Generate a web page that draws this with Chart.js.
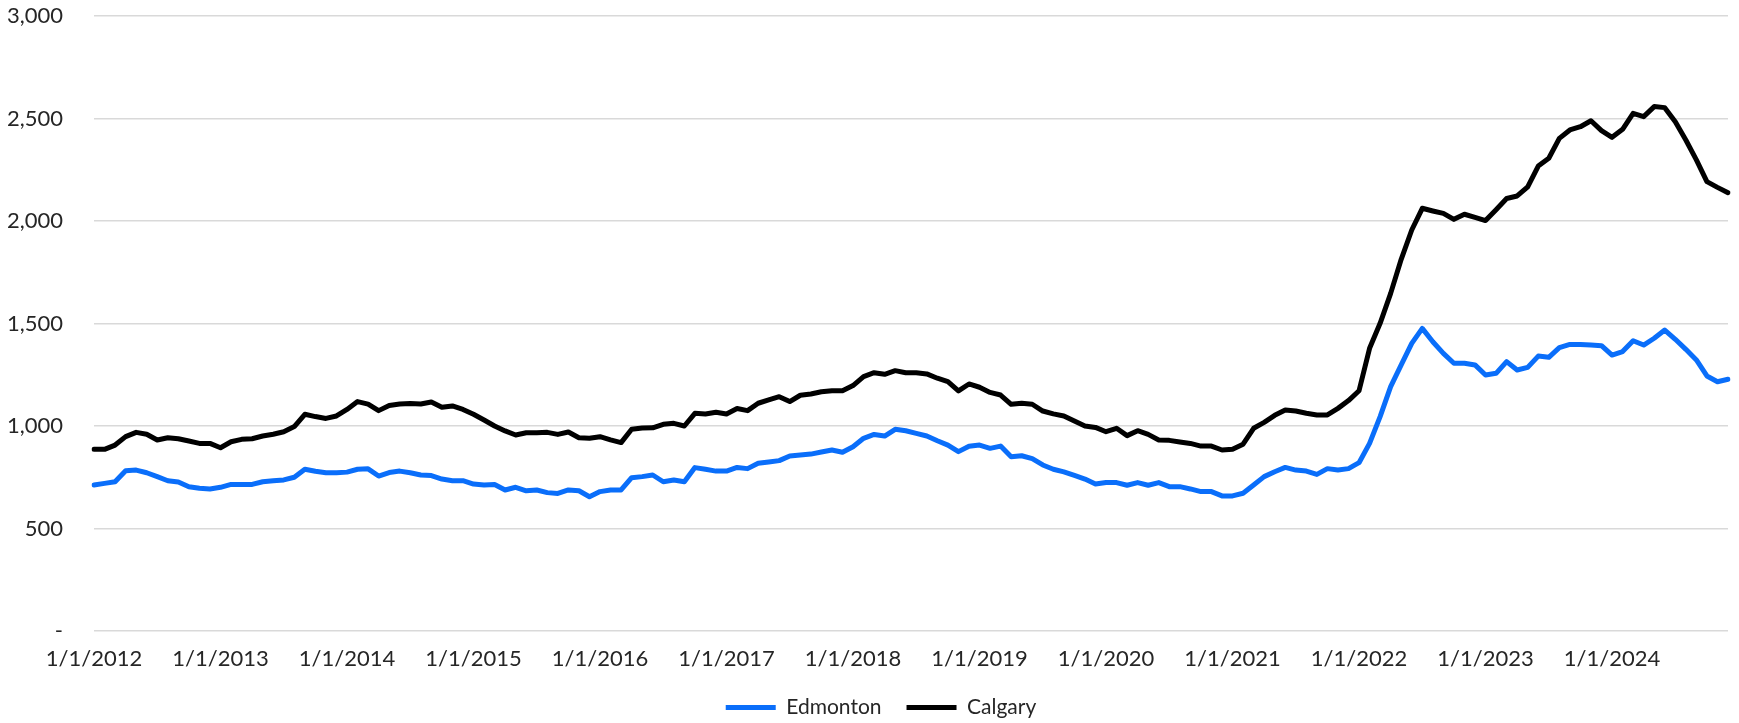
<!DOCTYPE html>
<html>
<head>
<meta charset="utf-8">
<script src="https://cdn.jsdelivr.net/npm/chart.js@4"></script>
<style>
  html, body { margin: 0; padding: 0; background: #ffffff; }
  #wrap { width: 1739px; height: 723px; }
</style>
</head>
<body>
<div id="wrap"><canvas id="c" width="1739" height="723"></canvas></div>
<script>
// ---- data ----
const years = [2012, 2013, 2014, 2015, 2016, 2017, 2018, 2019, 2020, 2021, 2022, 2023, 2024];
const months = [1, 2, 3, 4, 5, 6, 7, 8, 9, 10, 11, 12];

const edmonton = [
  712, 720, 728, 782, 785, 772, 753, 733, 727, 704, 696, 693,
  701, 715, 715, 715, 728, 733, 737, 750, 789, 779, 772, 772,
  775, 789, 791, 756, 773, 780, 772, 761, 758, 741, 733, 733,
  717, 712, 715, 688, 701, 684, 688, 675, 671, 688, 684, 655,
  680, 688, 688, 748, 753, 761, 728, 737, 728, 797, 789, 780,
  780, 798, 792, 818, 824, 831, 854, 858, 863, 873, 883, 872,
  899, 940, 959, 951, 984, 977, 964, 951, 928, 907, 875, 901,
  907, 891, 902, 850, 855, 841, 810, 789, 776, 759, 741, 717,
  724, 724, 711, 724, 711, 724, 704, 704, 693, 680, 680, 659,
  659, 672, 712, 753, 777, 798, 785, 780, 764, 792, 785, 792,
  821, 915, 1046, 1192, 1298, 1403, 1476, 1411, 1354, 1306, 1306, 1298,
  1249, 1257, 1314, 1273, 1286, 1341, 1335, 1382, 1398, 1398, 1395, 1392,
  1346, 1363, 1416, 1395, 1428, 1468, 1423, 1374, 1322, 1244, 1216, 1228
];

const calgary = [
  886, 886, 907, 948, 969, 960, 932, 943, 938, 927, 915, 915,
  894, 923, 935, 938, 951, 960, 972, 997, 1057, 1046, 1037, 1049,
  1081, 1119, 1107, 1075, 1100, 1107, 1110, 1107, 1117, 1091, 1098, 1081,
  1057, 1029, 1000, 976, 956, 967, 967, 969, 959, 971, 943, 940,
  948, 932, 919, 984, 990, 991, 1008, 1013, 1000, 1062, 1059, 1067,
  1059, 1085, 1075, 1111, 1127, 1143, 1119, 1150, 1156, 1167, 1172, 1172,
  1197, 1241, 1260, 1252, 1270, 1260, 1260, 1254, 1233, 1216, 1171, 1205,
  1189, 1164, 1151, 1106, 1111, 1106, 1073, 1059, 1049, 1024, 1000, 993,
  972, 989, 953, 977, 959, 932, 930, 922, 915, 902, 902, 883,
  886, 911, 989, 1018, 1052, 1078, 1073, 1062, 1054, 1054, 1086, 1124,
  1172, 1379, 1501, 1647, 1813, 1956, 2062, 2049, 2037, 2008, 2033, 2018,
  2002, 2055, 2110, 2122, 2167, 2268, 2306, 2403, 2444, 2460, 2489, 2441,
  2408, 2447, 2525, 2509, 2558, 2553, 2484, 2395, 2298, 2192, 2164, 2138
];

const yTickValues = [0, 500, 1000, 1500, 2000, 2500, 3000];
const yTickLabels = ['-', '500', '1,000', '1,500', '2,000', '2,500', '3,000'];

// categories: first day of each month
const categories = [];
years.forEach(y => months.forEach(m => categories.push(m + '/1/' + y)));

// ---- chart ----
const FONT = 'Lato, "Open Sans", sans-serif';
const TEXT = '#262626';
const FS = 22;

// nudge the legend to the right like the original
const legendShift = {
  id: 'legendShift',
  afterLayout(chart) {
    const l = chart.legend;
    if (l) { l.left += 17; l.right += 17; }
  }
};

new Chart(document.getElementById('c'), {
  type: 'line',
  data: {
    labels: categories,
    datasets: [
      {
        label: 'Edmonton',
        data: edmonton,
        borderColor: '#0A6EFA',
        backgroundColor: '#0A6EFA',
        borderWidth: 5,
        borderCapStyle: 'round',
        borderJoinStyle: 'round',
        pointRadius: 0,
        pointHoverRadius: 0,
        tension: 0,
        fill: false
      },
      {
        label: 'Calgary',
        data: calgary,
        borderColor: '#000000',
        backgroundColor: '#000000',
        borderWidth: 5,
        borderCapStyle: 'round',
        borderJoinStyle: 'round',
        pointRadius: 0,
        pointHoverRadius: 0,
        tension: 0,
        fill: false
      }
    ]
  },
  plugins: [legendShift],
  options: {
    responsive: false,
    animation: false,
    devicePixelRatio: 1,
    layout: { padding: { left: 0, right: 11, top: 16, bottom: -5 } },
    plugins: {
      tooltip: { enabled: false },
      legend: {
        display: true,
        position: 'bottom',
        labels: {
          usePointStyle: true,
          pointStyle: 'line',
          pointStyleWidth: 50,
          padding: 25,
          color: TEXT,
          font: { family: FONT, size: 21 }
        }
      }
    },
    scales: {
      x: {
        type: 'category',
        offset: false,
        grid: { display: false, drawTicks: false },
        border: { display: false },
        ticks: {
          autoSkip: false,
          maxRotation: 0,
          minRotation: 0,
          padding: 15,
          color: TEXT,
          font: { family: FONT, size: FS },
          callback: function (value, index) {
            const lab = categories[index];
            return lab.startsWith('1/') ? lab : null;
          }
        },
        afterFit: function (scale) { scale.height = 41; }
      },
      y: {
        min: 0,
        max: 3000,
        grid: { color: '#d9d9d9', lineWidth: 1.5, drawTicks: false },
        border: { display: false },
        afterBuildTicks: function (scale) {
          scale.ticks = yTickValues.map(v => ({ value: v }));
        },
        ticks: {
          padding: 31,
          color: TEXT,
          font: { family: FONT, size: FS },
          callback: function (value) {
            const k = yTickValues.indexOf(value);
            return k >= 0 ? yTickLabels[k] : '';
          }
        },
        afterFit: function (scale) { scale.width = 94; scale.paddingTop = 0; scale.paddingBottom = 0; }
      }
    }
  }
});
</script>
</body>
</html>
